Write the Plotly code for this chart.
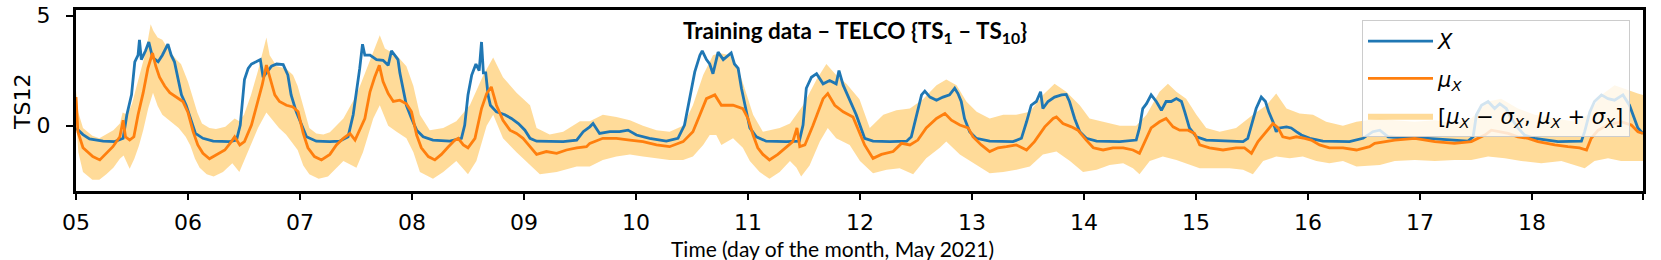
import pandas as pd
import plotly.graph_objects as go

# ---------------- data (hours since 2021-05-05 00:00, value) ----------------
x_hours = [0, 1.5, 2.9, 5.8, 8.3, 10.1, 10.9, 11.9, 12.6, 13.3, 13.6, 14.0, 14.9, 15.6, 16.4, 17.6, 18.5, 19.7, 20.4, 21.1,
           21.9, 22.6, 23.6, 24.7, 25.6, 27.2, 29.4, 32.9, 34.4, 35.2, 36.1, 36.9, 37.6, 38.6, 39.5, 40.1, 40.8, 41.9, 43.0, 44.4,
           45.4, 46.1, 47.2, 48.3, 49.4, 51.5, 54.4,
           56.5, 58.3, 59.4, 60.1, 60.8, 61.4, 61.9, 63.0, 64.4, 65.8, 66.9, 67.6, 68.3, 69.0, 69.4, 70.1, 70.8, 71.9, 73.0, 74.4,
           76.5, 80.1, 82.6, 83.3, 84.0, 84.8, 85.7, 86.4, 86.9, 87.3, 87.8, 88.3, 88.8, 90.1, 91.9, 93.3, 94.8, 96.2, 97.3, 98.7,
           104.4, 107.3, 108.7, 110.1,
           110.8, 112.2, 114.4, 116.5, 118.3, 120.1, 122.9, 126.5, 129.0, 130.4, 131.5, 132.6, 133.7, 134.2, 135.1, 135.8, 136.5,
           137.6, 138.7, 139.7, 140.4, 141.1, 141.9, 142.6, 143.6, 144.4, 145.8, 147.9, 152.2, 155.0, 155.8, 156.5, 157.6, 158.7,
           160.1, 161.5, 162.9, 163.5, 164.4, 165.8,
           167.2, 169.0, 170.8, 174.4, 178.0, 179.0, 180.1, 181.2, 181.9, 183.0, 184.4, 185.8, 187.2, 188.3, 189.0, 189.7, 190.4,
           191.5, 192.9, 195.8, 200.8, 202.6, 203.7, 204.7, 205.8, 206.7, 207.2, 208.3, 209.7, 211.2, 212.2, 212.9, 214.0, 215.1,
           216.5, 218.7, 223.7,
           227.2, 227.9, 228.6, 229.4, 230.4, 231.5, 232.6, 233.6, 234.7, 235.8, 236.9, 237.6, 238.6, 240.1, 242.2, 250.1, 251.1,
           251.9, 252.9, 254.0, 254.9, 255.6, 256.5, 257.2, 257.9, 259.4, 260.4, 261.5, 262.6, 264.4, 267.2, 272.9, 275.8, 277.9,
           279.4, 281.2, 285.4, 289.7, 294.0, 298.3, 299.4, 300.1, 301.2, 302.6, 304.0, 305.1, 306.5, 307.6, 309.0, 310.4, 312.6,
           317.6, 322.6, 323.3, 324.4, 325.4, 326.9, 328.3, 329.7, 331.5, 332.9, 334.0, 334.7, 335.8]
x_values = [-0.1, -0.4, -0.6, -0.7, -0.72, -0.57, 0.5, 1.4, 2.9, 3.2, 3.9, 3.0, 3.4, 3.8, 3.1, 2.9, 3.2, 3.7, 3.2, 2.9,
            2.1, 1.4, 0.93, 0.2, -0.35, -0.57, -0.7, -0.72, -0.65, 0.03, 2.1, 2.6, 2.8, 2.9, 3.0, 2.2, 2.4, 2.7, 2.8, 2.77,
            2.3, 1.4, 0.63, 0.03, -0.5, -0.7, -0.72,
            -0.7, -0.5, 0.5, 1.5, 2.6, 3.7, 3.2, 3.2, 3.0, 2.97, 2.74, 3.4, 3.2, 3.0, 2.4, 1.7, 0.93, 0.33, -0.2, -0.5,
            -0.65, -0.7, -0.57, 0.03, 1.4, 2.3, 2.8, 2.5, 3.8, 2.4, 2.4, 1.4, 0.93, 0.63, 0.5, 0.33, 0.1, -0.2, -0.57, -0.7,
            -0.72, -0.65, -0.27, -0.05,
            0.1, -0.35, -0.27, -0.27, -0.2, -0.42, -0.57, -0.7, -0.57, 0.03, 1.23, 2.44, 3.2, 3.4, 3.0, 2.8, 2.36,
            3.34, 3.0, 3.2, 3.3, 2.8, 2.6, 1.7, 0.63, -0.1, -0.5, -0.7, -0.72, -0.7, 0.03, 1.7, 2.2, 2.36,
            1.9, 2.05, 1.9, 2.5, 1.84, 1.2,
            0.5, -0.57, -0.7, -0.72, -0.7, -0.5, 0.5, 1.4, 1.57, 1.3, 1.16, 1.3, 1.4, 1.7, 1.46, 1.1, 0.33,
            -0.27, -0.57, -0.7, -0.72, -0.57, 0.18, 0.93, 1.1, 1.54, 0.78, 1.1, 1.3, 1.4, 1.42, 1.1, 0.33, -0.27,
            -0.57, -0.7, -0.72,
            -0.65, -0.1, 0.78, 1.0, 1.4, 1.1, 0.7, 1.1, 1.1, 1.23, 1.1, 0.63, -0.1, -0.5, -0.65, -0.72, -0.57,
            0.03, 0.78, 1.3, 1.1, 0.63, 0.18, -0.27, -0.1, -0.05, -0.1, -0.27, -0.42, -0.57, -0.7, -0.72, -0.57, -0.27,
            -0.2, -0.5, -0.57, -0.57, -0.65, -0.7, -0.5, 0.5, 0.93, 1.1, 0.78, 1.0, 0.78, 0.33, -0.1, -0.42, -0.57,
            -0.72, -0.7, -0.27, 0.63, 1.1, 1.4, 1.23, 1.16, 1.4, 0.93, 0.33, -0.1, -0.35]

mu_hours = [0, 0.4, 1.5, 3.6, 5.1, 6.5, 7.9, 9.4, 10.1, 10.6, 11.5, 12.4, 13.3, 14.4, 15.4, 16.4, 17.1, 17.9, 19.0, 20.1,
            21.5, 22.9, 24.0, 25.1, 26.1, 27.2, 28.6, 30.1, 31.9, 33.3, 34.0, 35.1, 36.1, 37.6, 39.0, 39.9, 40.8, 41.5, 42.6,
            43.6, 45.1, 46.5, 47.6, 48.7, 49.7, 51.1, 52.6, 54.4,
            55.8, 57.3, 58.7, 59.8, 60.8, 61.9, 63.0, 64.0, 65.0, 65.8, 66.9, 68.0, 69.4, 70.8, 71.9, 73.0, 74.0, 75.5, 76.9,
            78.3, 79.8, 81.2, 81.9, 83.0, 84.0, 85.5, 86.9, 88.0, 89.0, 90.1, 91.5, 93.0, 94.4, 95.8, 97.3, 98.7, 100.8, 103.0,
            105.1, 107.3, 109.4,
            110.1, 112.9, 115.8, 118.7, 121.5, 124.4, 127.2, 130.1, 132.2, 133.7, 135.1, 136.9, 138.3, 139.4, 140.8, 142.9,
            144.0, 145.1, 146.1, 147.2, 148.6, 150.4, 152.2, 153.6, 154.5, 155.1, 156.2, 157.9, 160.1, 161.1, 162.6, 164.4, 166.5,
            167.2, 169.0, 170.8, 172.6, 175.1, 176.9, 178.7, 180.4, 182.2, 184.4, 186.2, 187.6, 189.4, 191.2, 192.2, 194.0,
            195.8, 197.6, 199.4, 201.5, 203.7, 205.4, 207.6, 209.4, 210.1, 211.5, 213.3, 214.7, 216.5, 218.0, 220.1, 222.2,
            224.4, 226.5, 227.9, 229.0, 230.4, 232.2, 233.6, 235.1, 236.5, 238.3, 239.7, 240.8, 242.9, 245.8, 248.6, 250.4,
            251.9, 253.3, 255.1, 256.5, 257.6, 258.6, 260.1, 261.5, 263.3, 264.7, 266.5, 268.6, 271.5, 274.4, 277.2,
            278.3, 282.6, 286.9, 291.2, 295.4, 299.0, 301.9, 303.3, 305.1, 306.9, 309.0, 311.2, 313.3, 316.9, 319.7, 322.2,
            323.7, 324.7, 326.2, 328.3, 331.1, 333.3, 334.7, 335.8]
mu_values = [1.3, -0.27, -1.0, -1.4, -1.55, -1.25, -0.95, -0.5, 0.25, -0.5, -0.65, -0.5, 0.5, 1.5, 2.6, 3.3, 2.7, 2.2, 1.8, 1.5,
             1.3, 1.1, 0.6, -0.27, -0.87, -1.25, -1.5, -1.3, -1.1, -0.72, -0.5, -0.87, -0.72, 0.03, 1.1, 1.85, 2.75, 2.2, 1.4,
             1.1, 0.93, 0.85, 0.63, -0.35, -1.0, -1.4, -1.55, -1.3,
             -0.87, -0.57, -0.35, -0.65, -0.2, 0.33, 1.54, 2.2, 2.74, 2.0, 1.46, 1.1, 1.16, 1.0, 0.63, -0.42, -1.0, -1.4, -1.55,
             -1.3, -0.95, -0.65, -0.57, -0.87, -1.0, -0.57, 0.78, 1.46, 1.76, 0.93, 0.25, -0.2, -0.35, -0.57, -0.95, -1.3, -1.17, -1.25,
             -1.1, -1.0, -0.95,
             -0.8, -0.57, -0.57, -0.65, -0.72, -0.87, -0.95, -0.72, -0.27, 0.5, 1.23, 1.4, 0.93, 0.93, 0.93, 0.78,
             0.33, -0.42, -1.0, -1.3, -1.55, -1.3, -0.95, -0.72, -0.1, -0.95, -0.87, 0.0, 1.23, 1.46, 0.93, 0.63, 0.4,
             0.03, -0.87, -1.48, -1.3, -1.17, -0.8, -0.87, -0.65, -0.1, 0.33, 0.55, 0.25, 0.03, -0.1, -0.5, -0.87,
             -1.17, -1.0, -0.95, -0.87, -1.1, -0.72, -0.05, 0.33, 0.4, 0.1, -0.05, -0.2, -0.65, -1.0, -1.1, -1.0,
             -1.0, -1.1, -1.25, -0.72, -0.1, 0.18, 0.33, -0.05, -0.2, -0.2, -0.35, -0.87, -1.0, -1.1, -1.0, -1.0,
             -1.25, -0.72, -0.27, 0.1, -0.1, -0.5, -0.57, -0.5, -0.57, -0.65, -0.87, -1.0, -1.0, -1.1, -0.95,
             -0.8, -0.65, -0.57, -0.72, -0.8, -0.72, -0.42, -0.2, -0.27, -0.35, -0.5, -0.57, -0.72, -0.87, -0.95, -1.0,
             -1.1, -0.57, -0.2, 0.03, 0.18, 0.03, -0.27, -0.35]

upper_hours = [0, 0.5, 1.5, 3.5, 5, 6.5, 8, 9.4, 10, 11, 12, 13, 14, 15, 16, 16.6, 17.5, 18.5, 20, 21.5, 22.5, 24, 25, 26, 27,
               28.6, 30, 32, 34, 35, 36, 37.5, 39, 40.3, 40.8, 41.5, 43, 45, 46.5, 47.5, 48.7, 50, 51.5, 53,
               54.4, 57.3, 60.1, 62.3, 65.1, 66.2, 68.7, 70.8, 72.3, 73.7, 75.8, 78.7, 81.5, 84.4, 87.3, 89.4, 91.5, 94.4,
               97.3, 98.7, 101.5, 104.4, 108.0,
               110.1, 112.9, 115.8, 118.7, 121.5, 124.4, 127.2, 130.1, 132.2, 134.4, 136.5, 137.9, 140.1, 141.9, 143.6, 145.1,
               147.2, 150.8, 153.0, 155.8, 158.7, 160.8, 162.9, 165.1,
               167.9, 170.1, 173.0, 175.8, 178.7, 181.5, 184.4, 186.5, 188.7, 190.8, 193.0, 195.8, 198.7, 201.5, 204.4, 207.2,
               209.7, 212.2, 215.1, 217.2, 220.1,
               223.7, 227.2, 229.4, 232.2, 234.0, 235.8, 237.9, 240.1, 242.2, 245.1, 248.6, 252.2, 255.1, 257.2, 259.4, 262.2,
               265.1, 267.9, 271.5, 274.4, 279.4,
               282.6, 286.9, 291.2, 295.4, 299.0, 302.6, 305.4, 309.0, 312.6, 316.9, 321.2, 324.0, 326.9, 329.7, 332.6, 334.7, 335.8]
upper_values = [1.6, 0.6, -0.1, -0.45, -0.57, -0.4, -0.2, 0.1, 0.6, 0.5, 1.0, 1.8, 2.6, 3.4, 4.6, 4.3, 4.0, 3.9, 3.4, 3.0, 2.8, 2.0, 1.3, 0.6, 0.1,
                -0.1, -0.15, -0.05, 0.33, 0.2, 0.5, 1.4, 2.5, 3.5, 4.0, 3.2, 2.7, 2.6, 2.3, 1.8, 0.93, -0.1, -0.35, -0.4,
                -0.3, 0.33, 1.4, 2.6, 4.1, 3.5, 3.2, 2.7, 1.8, 0.5, -0.2, -0.1, 0.2, 0.93, 2.3, 3.1, 2.2, 1.5,
                0.93, -0.1, -0.4, -0.27, 0.2,
                0.2, 0.5, 0.4, 0.25, 0.0, -0.2, -0.27, 0.0, 0.93, 2.3, 3.2, 3.3, 3.2, 2.6, 1.5, 0.5,
                -0.27, -0.1, 0.1, 0.93, 2.1, 2.8, 2.3, 1.9,
                1.2, -0.1, 0.5, 0.7, 0.78, 1.2, 1.84, 2.1, 1.84, 1.1, 0.63, 0.33, 0.5, 0.5, 0.63, 1.4,
                1.9, 1.54, 0.93, 0.33, 0.18,
                0.0, 0.0, 0.5, 1.54, 1.9, 1.54, 1.23, 0.5, -0.1, -0.27, -0.1, 0.5, 0.93, 1.46, 0.78, 0.55,
                0.5, 0.18, 0.0, 0.18, 0.33,
                0.25, 0.18, 0.25, 0.1, 0.33, 1.1, 1.23, 0.78, 0.5, 0.33, 0.18, 0.5, 1.4, 1.84, 1.6, 1.46, 1.4]

lower_hours = [0, 0.5, 1.5, 3.5, 5, 6.5, 8, 9.4, 10.2, 11.5, 12.5, 13.5, 14.4, 15.5, 16.5, 17.5, 18.5, 20, 22, 23.5, 24.5, 25.5,
               26.5, 28, 29.5, 31.5, 33.5, 35, 36, 37.5, 39, 40.8, 42, 43.5, 45, 46.5, 47.5, 48.7, 50, 52, 54,
               57.3, 60.1, 61.5, 63.7, 65.1, 66.9, 68.7, 70.8, 72.3, 73.7, 76.5, 78.7, 81.5, 84.0, 85.8, 88.0, 89.4, 91.5,
               94.4, 97.3, 99.4, 103.0, 107.3,
               110.1, 112.9, 115.8, 118.7, 121.5, 124.4, 127.2, 130.1, 132.2, 134.4, 135.8, 137.2, 138.3, 140.8, 142.9, 144.4,
               146.5, 148.6, 150.8, 153.0, 154.4, 155.4, 157.2, 159.4, 161.1, 162.9, 165.8,
               168.0, 170.8, 173.7, 176.5, 179.4, 182.2, 185.1, 186.5, 189.4, 193.0, 195.8, 198.7, 201.5, 204.4, 207.2, 210.1,
               213.0, 215.8, 218.7, 221.5,
               224.4, 226.5, 227.9, 230.1, 232.9, 235.8, 238.6, 240.8, 243.6, 247.2, 250.1, 252.2, 254.4, 257.2, 260.1, 262.9,
               265.8, 268.6, 271.5, 274.4, 279.4,
               282.6, 286.9, 291.2, 295.4, 299.0, 302.6, 306.2, 309.7, 314.0, 318.3, 321.2, 323.3, 325.4, 328.3, 331.1, 335.8]
lower_values = [0.3, -1.2, -2.1, -2.45, -2.45, -2.2, -1.9, -1.5, -1.35, -1.95, -1.5, -0.9, -0.2, 0.8, 1.5, 0.9, 0.5, 0.25, -0.1, -0.5, -0.9, -1.5,
                -1.9, -2.2, -2.3, -2.1, -1.7, -2.1, -1.6, -0.9, -0.1, 0.6, 0.3, -0.1, -0.4, -0.8, -1.1, -1.8, -2.2, -2.4, -2.3,
                -1.6, -1.9, -1.2, 0.33, 0.93, 0.0, -0.27, -0.57, -1.2, -2.1, -2.4, -2.1, -1.6, -2.2, -1.6, 0.0, 0.5, -0.57,
                -1.2, -1.8, -2.2, -2.1, -1.85,
                -1.85, -1.55, -1.4, -1.3, -1.4, -1.48, -1.55, -1.55, -1.4, -0.87, -0.42, -0.42, -0.87, -0.57, -1.0, -1.6,
                -2.1, -2.4, -2.1, -1.6, -1.9, -2.3, -1.8, -0.72, -0.1, -0.57, -0.87,
                -1.6, -2.15, -2.0, -1.93, -2.2, -1.48, -1.0, -0.72, -1.3, -1.78, -2.15, -2.1, -2.0, -1.85, -1.3, -1.17,
                -1.6, -2.1, -2.0, -1.78,
                -1.7, -1.93, -2.2, -1.6, -1.4, -1.55, -1.78, -1.93, -1.93, -1.93, -2.0, -2.2, -1.6, -1.4, -1.48, -1.4,
                -1.6, -1.7, -1.6, -1.85, -1.78,
                -1.6, -1.55, -1.6, -1.55, -1.55, -1.4, -1.48, -1.6, -1.7, -1.6, -1.78, -1.93, -1.6, -1.48, -1.6, -1.6]

day_labels = ["05", "06", "07", "08", "09", "10", "11", "12", "13", "14", "15", "16", "17", "18"]
y_ticks = [0, 5]
y_tick_labels = ["0", "5"]

# ---------------- helpers ----------------
base = pd.Timestamp("2021-05-05")


def to_time(hours):
    return base + pd.to_timedelta(pd.Series(hours, dtype=float), unit="h")


t_x = to_time(x_hours)
t_mu = to_time(mu_hours)
t_up = to_time(upper_hours)
t_lo = to_time(lower_hours)

x_end = base + pd.Timedelta(hours=335.8)
tick_vals = [base + pd.Timedelta(days=i) for i in range(len(day_labels))] + [x_end]
tick_text = day_labels + [""]

# geometry (px)
W, H = 1661, 260
ML, MR, MT, MB = 76, 18, 10, 69
PW = W - ML - MR
PH = H - MT - MB


def px_x(px):
    return (px - ML) / PW


def px_y(py):
    return (H - MB - py) / PH


BLUE = "#1f77b4"
ORANGE = "#ff7f0e"
BAND = "rgba(255,165,0,0.4)"
TICK_FONT = dict(family="DejaVu Sans", size=22, color="black")

fig = go.Figure()

fig.add_trace(go.Scatter(
    x=t_up, y=upper_values, mode="lines", line=dict(width=0, color=BAND),
    showlegend=False, legendgroup="band", hoverinfo="skip"))
fig.add_trace(go.Scatter(
    x=t_lo, y=lower_values, mode="lines", line=dict(width=0, color=BAND),
    fill="tonexty", fillcolor=BAND, legendgroup="band", legendrank=3,
    name="[<i>μ<sub>X</sub></i> − <i>σ<sub>X</sub></i>, <i>μ<sub>X</sub></i> + <i>σ<sub>X</sub></i>]"))
fig.add_trace(go.Scatter(
    x=t_x, y=x_values, mode="lines", line=dict(width=2.8, color=BLUE),
    name="<i>X</i>", legendgroup="x", legendrank=1))
fig.add_trace(go.Scatter(
    x=t_mu, y=mu_values, mode="lines", line=dict(width=2.8, color=ORANGE),
    name="<i>μ<sub>X</sub></i>", legendgroup="mu", legendrank=2))

fig.update_layout(
    width=W, height=H,
    margin=dict(l=ML, r=MR, t=MT, b=MB, pad=0, autoexpand=False),
    paper_bgcolor="white", plot_bgcolor="white",
    showlegend=True,
    legend=dict(
        x=px_x(1630), y=px_y(20), xanchor="right", yanchor="top",
        bgcolor="rgba(255,255,255,0.8)", bordercolor="#cccccc", borderwidth=1,
        font=dict(family="DejaVu Sans", size=21, color="black"),
        traceorder="grouped", tracegroupgap=7, itemwidth=65,
    ),
    xaxis=dict(
        type="date", range=[base, x_end],
        tickvals=tick_vals, ticktext=tick_text,
        showline=True, linecolor="black", linewidth=3, mirror=True,
        ticks="outside", ticklen=6, tickwidth=2, tickcolor="black",
        showgrid=False, zeroline=False, tickfont=TICK_FONT, automargin=False,
        ticklabelstandoff=4,
    ),
    yaxis=dict(
        range=[-2.96, 5.25], tickvals=y_ticks,
        ticktext=[t + "\u2002" for t in y_tick_labels],
        showline=True, linecolor="black", linewidth=3, mirror=True,
        ticks="outside", ticklen=7, tickwidth=2, tickcolor="black",
        showgrid=False, zeroline=False, tickfont=TICK_FONT, automargin=False,
    ),
    annotations=[
        dict(text="<b>Training data – TELCO {TS<sub>1</sub> – TS<sub>10</sub>}</b>",
             x=px_x(855), y=px_y(32), xref="paper", yref="paper",
             xanchor="center", yanchor="middle", showarrow=False,
             font=dict(family="Lato", size=22.5, color="black")),
        dict(text="Time (day of the month, May 2021)",
             x=px_x(832), y=px_y(248), xref="paper", yref="paper",
             xanchor="center", yanchor="middle", showarrow=False,
             font=dict(family="Lato", size=21, color="black")),
        dict(text="TS12", textangle=-90,
             x=px_x(22), y=px_y(102), xref="paper", yref="paper",
             xanchor="center", yanchor="middle", showarrow=False,
             font=dict(family="DejaVu Sans", size=22, color="black")),
    ],
)

fig.write_html("out.html", config={"displayModeBar": False},
               post_script="document.body.style.margin='0px';")
